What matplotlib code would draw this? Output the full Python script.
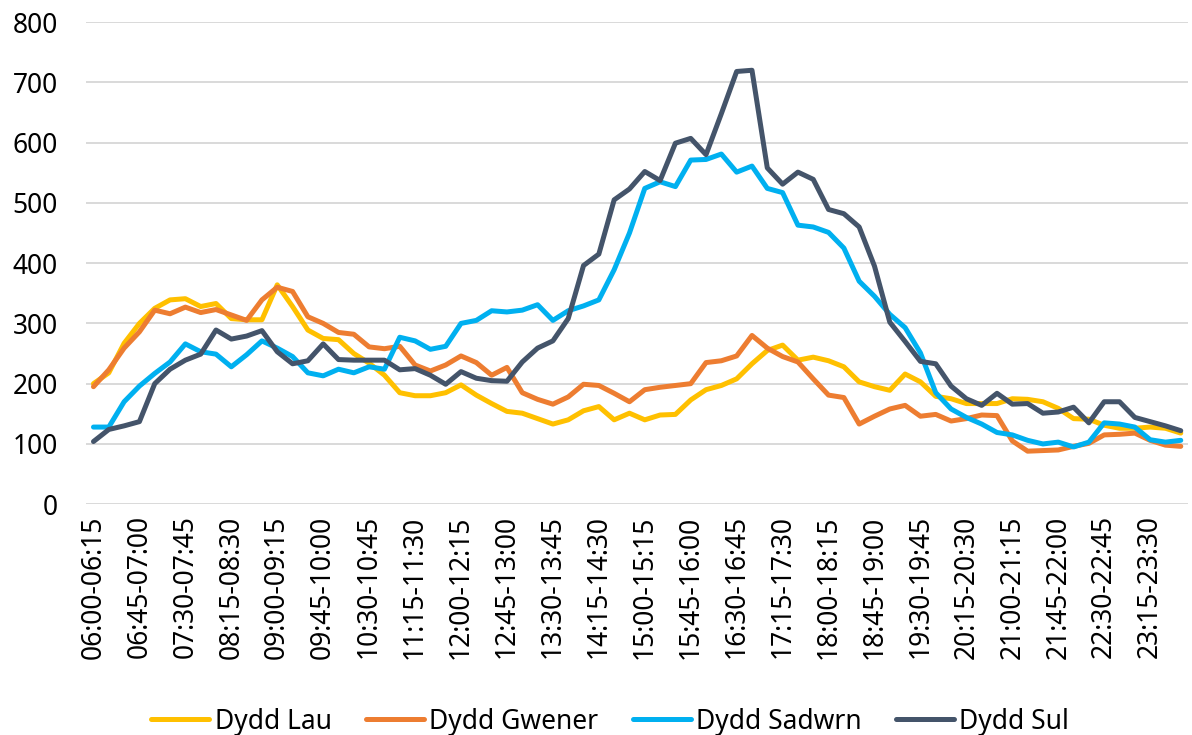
import matplotlib
matplotlib.use("Agg")
import matplotlib.pyplot as plt

# --- data -------------------------------------------------------------
start_minutes = [6 * 60 + 15 * k for k in range(72)]
categories = [
    f"{m // 60:02d}:{m % 60:02d}-{(m + 15) // 60:02d}:{(m + 15) % 60:02d}"
    for m in start_minutes
]

dydd_lau = [200, 218, 267, 300, 325, 339, 341, 328, 333, 308, 306, 306,
            364, 328, 289, 275, 273, 250, 234, 214, 185, 180, 180, 185,
            198, 181, 167, 154, 151, 142, 133, 140, 155, 162, 140, 151,
            140, 148, 149, 173, 190, 197, 208, 233, 255, 264, 239, 244,
            238, 228, 203, 195, 189, 216, 203, 179, 175, 167, 167, 167,
            175, 174, 170, 159, 142, 141, 131, 126, 126, 128, 126, 118]

dydd_gwener = [195, 223, 259, 286, 322, 316, 327, 318, 323, 314, 305, 339,
               360, 353, 311, 300, 285, 282, 261, 258, 262, 231, 221, 231,
               246, 235, 214, 227, 185, 174, 166, 178, 199, 197, 184, 170,
               190, 194, 197, 200, 235, 238, 246, 280, 259, 245, 236, 208,
               181, 177, 133, 146, 158, 164, 146, 149, 138, 142, 148, 147,
               105, 88, 89, 90, 96, 101, 115, 116, 118, 106, 98, 96]

dydd_sadwrn = [128, 128, 170, 196, 217, 236, 266, 253, 249, 228, 248, 271,
               259, 245, 218, 213, 224, 218, 228, 224, 277, 271, 257, 262,
               300, 305, 321, 319, 322, 331, 305, 321, 329, 339, 389, 450,
               524, 535, 527, 571, 572, 581, 551, 561, 524, 517, 463, 460,
               451, 425, 370, 345, 315, 293, 251, 185, 158, 144, 133, 119,
               115, 106, 100, 103, 95, 103, 135, 133, 128, 107, 103, 106]

dydd_sul = [104, 124, 130, 137, 200, 224, 239, 249, 289, 274, 279, 288,
            253, 233, 238, 266, 240, 239, 239, 239, 223, 225, 214, 199,
            220, 209, 205, 204, 236, 259, 271, 308, 396, 415, 505, 523,
            552, 537, 599, 607, 580, 648, 718, 720, 558, 531, 551, 539,
            489, 482, 460, 395, 302, 270, 237, 233, 196, 175, 164, 184,
            166, 167, 151, 153, 161, 135, 170, 170, 144, 137, 130, 122]

series_names = ["Dydd Lau", "Dydd Gwener", "Dydd Sadwrn", "Dydd Sul"]
series_values = [dydd_lau, dydd_gwener, dydd_sadwrn, dydd_sul]
series_colors = ["#FFC000", "#ED7D31", "#00B0F0", "#44546A"]

y_ticks = [0, 100, 200, 300, 400, 500, 600, 700, 800]

# --- plot -------------------------------------------------------------
plt.rcParams["font.family"] = ["Noto Sans", "DejaVu Sans"]

fig = plt.figure(figsize=(11.92, 7.35), dpi=100)
ax = fig.add_axes([0.072, 0.314, 0.925, 0.656])

x = list(range(len(categories)))
for name, vals, col in zip(series_names, series_values, series_colors):
    ax.plot(x, vals, color=col, lw=3.6, label=name,
            solid_joinstyle="round", solid_capstyle="round")

ax.set_xlim(-0.5, len(categories) - 0.5)
ax.set_ylim(0, 800)
ax.set_yticks(y_ticks)
ax.set_yticklabels([str(v) for v in y_ticks], fontsize=19)
ax.set_xticks(x[::3])
ax.set_xticklabels(categories[::3], rotation=90, fontsize=19,
                   ha="center", va="top")

ax.grid(axis="y", color="#D9D9D9", lw=1.4)
ax.set_axisbelow(True)
for s in ax.spines.values():
    s.set_visible(False)
ax.tick_params(axis="both", length=0, colors="black")
ax.tick_params(axis="y", pad=20)
ax.tick_params(axis="x", pad=8)

fig.legend(loc="lower center", bbox_to_anchor=(0.512, -0.033), ncol=4,
           frameon=False, fontsize=19, handlelength=2.2,
           handletextpad=0.2, columnspacing=1.3)

fig.savefig("out.png", dpi=100)
